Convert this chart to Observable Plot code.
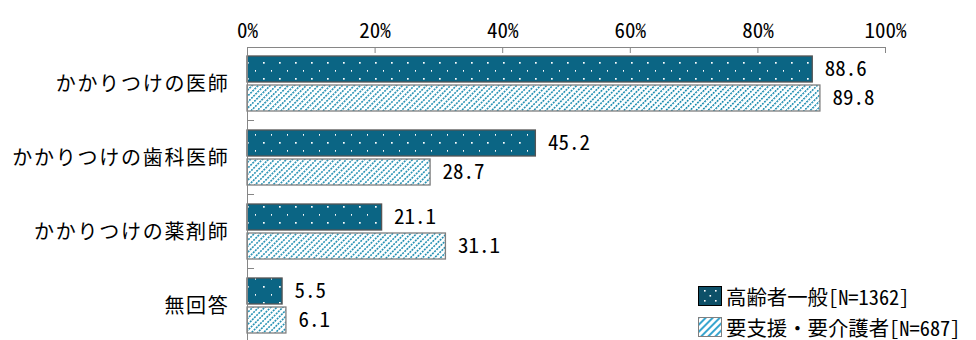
<!DOCTYPE html>
<html><head><meta charset="utf-8">
<script src="https://cdn.jsdelivr.net/npm/d3@7"></script>
<script src="https://cdn.jsdelivr.net/npm/@observablehq/plot@0.6"></script>
<style>
body{margin:0;background:#fff}
#wrap{position:relative;width:976px;height:340px}
#legend{position:absolute;left:698px;top:286px;width:266px;font-family:"Noto Sans Mono CJK JP","Noto Sans CJK JP",monospace;font-size:20.4px;line-height:1;color:#000}
.row{display:flex;align-items:center;height:20px;margin-bottom:11px;white-space:nowrap}
.row span{line-height:1}
.row svg{margin-right:4px;flex:none}
</style></head><body><div id="wrap"><div id="legend"></div></div>
<script>
const categories = ["かかりつけの医師","かかりつけの歯科医師","かかりつけの薬剤師","無回答"];
const seriesNames = ["高齢者一般[N=1362]","要支援・要介護者[N=687]"];
const generalValues = [88.6, 45.2, 21.1, 5.5];
const careValues = [89.8, 28.7, 31.1, 6.1];
const xTicks = [0, 20, 40, 60, 80, 100];

const rows = categories.flatMap((c, i) => [
  {category: c, series: seriesNames[0], value: generalValues[i]},
  {category: c, series: seriesNames[1], value: careValues[i]}
]);
const gRows = rows.filter(d => d.series === seriesNames[0]);
const cRows = rows.filter(d => d.series === seriesNames[1]);

const numFont = `"Noto Sans Mono CJK JP","Liberation Mono",monospace`;
const axisColor = "#868686";

const chart = Plot.plot({
  width: 976, height: 340,
  marginLeft: 247, marginRight: 91, marginTop: 47, marginBottom: -3,
  style: {fontFamily: '"Noto Sans CJK JP",sans-serif', background: "white", overflow: "visible"},
  x: {domain: [0, 100], axis: null},
  y: {domain: categories, padding: 0, axis: null},
  marks: [
    Plot.barX(gRows, {x: "value", y: "category", fill: "url(#dots)", stroke: "#555", strokeWidth: 1.3, insetTop: 9, insetBottom: 39}),
    Plot.barX(cRows, {x: "value", y: "category", fill: "url(#hatch)", stroke: "#7f7f7f", strokeWidth: 1.3, insetTop: 38, insetBottom: 10}),
    Plot.text(gRows, {x: "value", y: "category", text: d => d.value.toFixed(1), dx: 12, dy: -15, textAnchor: "start", fontFamily: numFont, fontSize: 21, fill: "#000"}),
    Plot.text(cRows, {x: "value", y: "category", text: d => d.value.toFixed(1), dx: 12, dy: 14, textAnchor: "start", fontFamily: numFont, fontSize: 21, fill: "#000"}),
    Plot.axisY({anchor: "left", label: null, tickSize: 0, tickPadding: 18, fontSize: 20, fill: "#000"}),
    Plot.axisX(xTicks, {anchor: "top", label: null, tickFormat: d => d + "%", tickSize: 5, dy: 5, tickPadding: 10, stroke: axisColor, fill: "#000", fontFamily: numFont, fontSize: 21}),
    Plot.ruleX([0], {stroke: axisColor}),
    Plot.frame({anchor: "top", stroke: axisColor}),
    Plot.barX(categories.slice(0, -1), {y: d => d, x1: 0, x2: 1.1, insetTop: 73, insetBottom: 0, fill: axisColor})
  ]
});

d3.select(chart).insert("defs", ":first-child").html(`
  <pattern id="dots" patternUnits="userSpaceOnUse" width="16" height="16">
    <rect width="16" height="16" fill="#0b6584"/>
    <rect x="7" y="14" width="1.7" height="1.7" fill="#fff"/>
    <rect x="15" y="6" width="1.7" height="1.7" fill="#fff"/>
  </pattern>
  <pattern id="hatch" patternUnits="userSpaceOnUse" width="3" height="4.25" patternTransform="rotate(-45)">
    <rect width="3" height="4.25" fill="#fff"/>
    <rect x="0" y="0" width="2" height="1.5" fill="#1689ae"/>
  </pattern>`);
d3.select(chart).selectAll('g[aria-label="y-axis tick label"] text').style("letter-spacing", "1.7px");

document.getElementById("wrap").prepend(chart);

const legend = document.getElementById("legend");
legend.innerHTML = `
  <div class="row"><svg width="24" height="20"><rect x="0.5" y="0.5" width="23" height="19" fill="#0d5068" stroke="#000"/>
    <rect x="6" y="4" width="1.6" height="1.6" fill="#fff"/><rect x="17" y="4" width="1.6" height="1.6" fill="#fff"/>
    <rect x="11.5" y="9" width="1.6" height="1.6" fill="#fff"/><rect x="6" y="14" width="1.6" height="1.6" fill="#fff"/><rect x="17" y="14" width="1.6" height="1.6" fill="#fff"/></svg><span>${seriesNames[0]}</span></div>
  <div class="row"><svg width="24" height="20"><defs><pattern id="lh" patternUnits="userSpaceOnUse" width="5" height="5" patternTransform="rotate(-45)"><rect width="5" height="5" fill="#fff"/><rect width="5" height="2" fill="#3aa6cf"/></pattern></defs><rect x="0.5" y="0.5" width="23" height="19" fill="url(#lh)" stroke="#808080"/></svg><span>${seriesNames[1]}</span></div>`;
</script>
</body></html>
